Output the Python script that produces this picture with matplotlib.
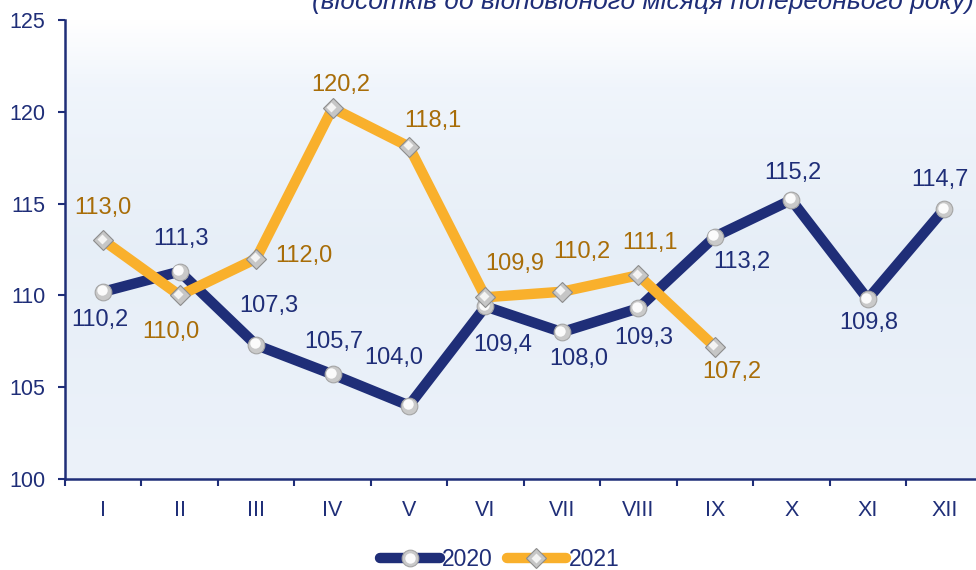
import numpy as np
import matplotlib.pyplot as plt
from matplotlib.legend_handler import HandlerTuple
import matplotlib.transforms as mtransforms

plt.rcParams['font.family'] = ['Liberation Sans', 'DejaVu Sans']

months = ['I', 'II', 'III', 'IV', 'V', 'VI', 'VII', 'VIII', 'IX', 'X', 'XI', 'XII']
vals_2020 = [110.2, 111.3, 107.3, 105.7, 104.0, 109.4, 108.0, 109.3, 113.2, 115.2, 109.8, 114.7]
vals_2021 = [113.0, 110.0, 112.0, 120.2, 118.1, 109.9, 110.2, 111.1, 107.2]

# зміщення підписів у пікселях (dx, dy)
off_2020 = [(-3, -28), (1, 33), (13, 39), (1, 32), (-15, 48), (17, -39),
            (17, -27), (5, -30), (27, -25), (2, 27), (1, -24), (-4, 29)]
off_2021 = [(0, 32), (-9, -37), (48, 3), (8, 23), (24, 26), (29, 33),
            (20, 40), (12, 32), (17, -25)]

navy = '#1f2e78'
orange = '#f9b02c'
brown = '#a86d08'

fig = plt.figure(figsize=(9.76, 5.70), dpi=100)
ax = fig.add_axes([0.0666, 0.1596, 0.94, 0.8053])

# градієнтний фон
grad = np.linspace(0, 1, 256)
r = np.interp(grad, [0, 0.15, 0.5, 1], [1.0, 0.94, 0.905, 0.925])
g = np.interp(grad, [0, 0.15, 0.5, 1], [1.0, 0.96, 0.935, 0.948])
b = np.interp(grad, [0, 0.15, 0.5, 1], [1.0, 0.985, 0.97, 0.98])
img = np.stack([r, g, b], axis=-1)[:, None, :]
ax.imshow(img, extent=[-0.5, 11.5, 100, 125], origin='upper',
          aspect='auto', zorder=0)

x20 = np.arange(len(vals_2020))
x21 = np.arange(len(vals_2021))

l20, = ax.plot(x20, vals_2020, color=navy, lw=7.5, solid_capstyle='round',
               marker='o', ms=12, mfc='#c9c9c9', mec='#a5a5a5', mew=0.8, zorder=3)
l21, = ax.plot(x21, vals_2021, color=orange, lw=7.5, solid_capstyle='round',
               marker='D', ms=10, mfc='#c6c6c6', mec='#8c8c8c', mew=0.8, zorder=4)

hl = mtransforms.offset_copy(ax.transData, fig=fig, x=-1.5, y=1.5, units='dots')
h20, = ax.plot(x20, vals_2020, ls='none', marker='o', ms=7.5, mfc='#fbfbfb',
               mec='none', zorder=3.5, transform=hl)
h21, = ax.plot(x21, vals_2021, ls='none', marker='D', ms=5, mfc='#f4f4f4',
               mec='none', zorder=4.5, transform=hl)

for i, v in enumerate(vals_2020):
    dx, dy = off_2020[i]
    ax.annotate(f'{v:.1f}'.replace('.', ','), (i, v), xytext=(dx, dy),
                textcoords='offset pixels', ha='center', va='center',
                fontsize=17, color=navy, zorder=6)
for i, v in enumerate(vals_2021):
    dx, dy = off_2021[i]
    ax.annotate(f'{v:.1f}'.replace('.', ','), (i, v), xytext=(dx, dy),
                textcoords='offset pixels', ha='center', va='center',
                fontsize=17, color=brown, zorder=6)

ax.set_xlim(-0.5, 11.5)
ax.set_ylim(100, 125)
ax.set_yticks([100, 105, 110, 115, 120, 125])
ax.set_xticks(x20)
ax.set_xticklabels(months)
ax.set_xticks(np.arange(-0.5, 12, 1), minor=True)
ax.tick_params(axis='x', which='major', length=0, pad=15, labelsize=15.5, labelcolor=navy)
ax.tick_params(axis='x', which='minor', length=5, width=1.5, color=navy, direction='out')
ax.tick_params(axis='y', length=5, width=1.5, color=navy, pad=9, labelsize=15.5, labelcolor=navy)

for s in ['top', 'right']:
    ax.spines[s].set_visible(False)
for s in ['left', 'bottom']:
    ax.spines[s].set_color(navy)
    ax.spines[s].set_linewidth(1.8)

# підзаголовок, обрізаний верхнім краєм, як в оригіналі
fig.text(0.998, 1 - 9 / 570, '(відсотків до відповідного місяця попереднього року)',
         ha='right', va='baseline', fontsize=19, style='italic', color=navy)

fig.legend([(l20, h20), (l21, h21)], ['2020', '2021'],
           handler_map={tuple: HandlerTuple(ndivide=1)},
           loc='lower center', bbox_to_anchor=(0.512, -0.038), ncol=2, frameon=False,
           fontsize=16.5, handlelength=2.6, handletextpad=0.1, columnspacing=0.6,
           labelcolor=navy)

fig.savefig('out.png', dpi=100)
